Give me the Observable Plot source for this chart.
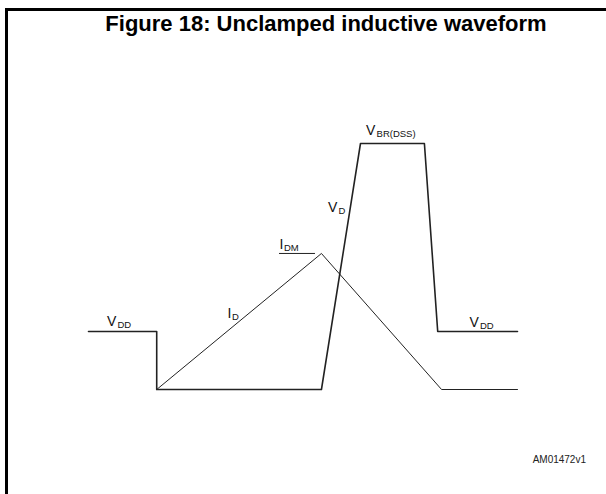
<!DOCTYPE html>
<html>
<head>
<meta charset="utf-8">
<script src="https://cdn.jsdelivr.net/npm/d3@7"></script>
<script src="https://cdn.jsdelivr.net/npm/@observablehq/plot@0.6"></script>
<style>
  html, body { margin: 0; padding: 0; background: #fff; overflow: hidden; }
  #wrap { position: relative; width: 606px; height: 494px; overflow: hidden; font-family: "Liberation Sans", Arial, sans-serif; }
  #frame { position: absolute; left: 5px; top: 8px; width: 800px; height: 800px; border-left: 3px solid #000; border-top: 3px solid #000; z-index: 3; pointer-events: none; }
  #title { height: 40px; box-sizing: border-box; width: 606px; padding-left: 46px; padding-top: 11px; line-height: 25px; font-weight: bold; font-size: 22px; text-align: center; color: #000; white-space: nowrap; }
  #code { position: absolute; right: 20px; top: 454px; font-size: 10px; line-height: 12px; color: #222; }
  #chart svg { display: block; background: transparent; }
</style>
</head>
<body>
<div id="wrap">
  <div id="frame"></div>
  <div id="title">Figure 18: Unclamped inductive waveform</div>
  <div id="chart"></div>
  <div id="code">AM01472v1</div>
</div>
<script>
// Time axis in arbitrary units (0..100), amplitude normalised (0 = ground, 1 = V(BR)DSS)
const vdTime  = [0, 15.9, 15.9, 54.3, 63.4, 78.3, 81.4, 100];
const vdLevel = [0.236, 0.236, 0, 0, 1, 1, 0.236, 0.236];
const idTime  = [15.9, 54.3, 82.3, 100];
const idLevel = [0, 0.553, 0, 0];
const idmRefTime  = [44.5, 52.7];
const idmRefLevel = [0.553, 0.553];

const labelMain = ["V", "I", "I", "V", "V", "V"];
const labelSub  = ["DD", "D", "DM", "D", "BR(DSS)", "DD"];
const labelTime = [4.3, 32.4, 44.5, 55.8, 64.7, 88.8];
const labelLevel = [0.258, 0.289, 0.571, 0.72, 1.033, 0.256];

const vd = vdTime.map((t, i) => ({t, v: vdLevel[i]}));
const id = idTime.map((t, i) => ({t, v: idLevel[i]}));
const idmRef = idmRefTime.map((t, i) => ({t, v: idmRefLevel[i]}));
const labels = labelMain.map((m, i) => ({main: m, sub: labelSub[i], t: labelTime[i], v: labelLevel[i]}));

const subDx = m => m === "I" ? 4.5 : 10.5;

const chart = Plot.plot({
  width: 606,
  height: 454,
  marginLeft: 88,
  marginRight: 89,
  marginTop: 103,
  marginBottom: 105,
  x: {domain: [0, 100], axis: null},
  y: {domain: [0, 1], axis: null},
  style: {background: "transparent", fontFamily: "'Liberation Sans', Arial, sans-serif"},
  marks: [
    Plot.line(idmRef, {x: "t", y: "v", stroke: "#222", strokeWidth: 1}),
    Plot.line(id, {x: "t", y: "v", stroke: "#222", strokeWidth: 1}),
    Plot.line(vd, {x: "t", y: "v", stroke: "#222", strokeWidth: 1.6, strokeLinejoin: "round"}),
    Plot.text(labels, {x: "t", y: "v", text: "main", textAnchor: "start", lineAnchor: "bottom", fontSize: 14, fill: "#111"}),
    ...labels.map(l => Plot.text([l], {x: "t", y: "v", text: "sub", textAnchor: "start", lineAnchor: "bottom", fontSize: 9.5, fill: "#111", dx: subDx(l.main), dy: 2}))
  ]
});
document.getElementById("chart").appendChild(chart);
</script>
</body>
</html>
